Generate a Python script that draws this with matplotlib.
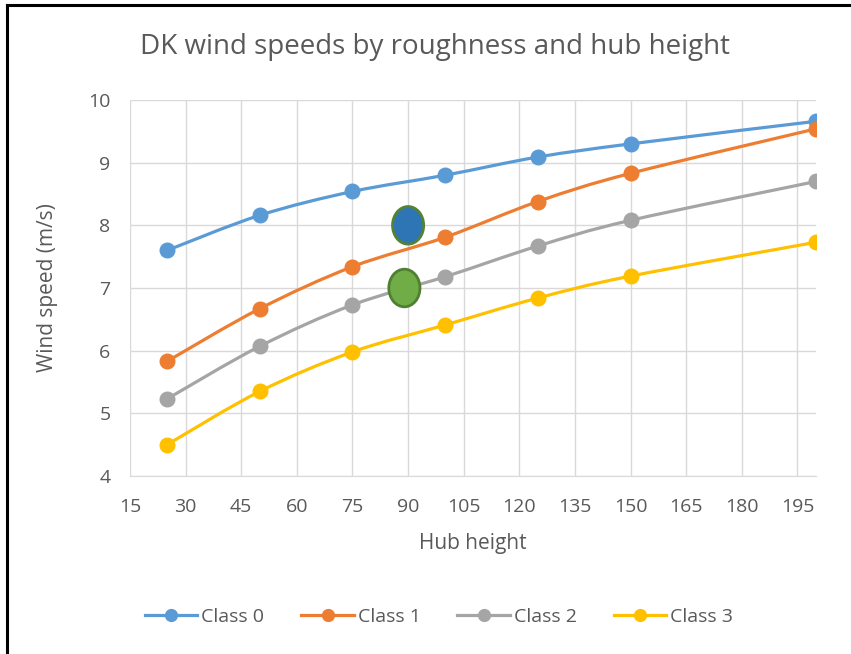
import numpy as np
import matplotlib
matplotlib.use('Agg')
import matplotlib.pyplot as plt
from matplotlib.path import Path
from matplotlib.patches import PathPatch, Ellipse
from matplotlib.lines import Line2D

plt.rcParams['font.family'] = ['Open Sans', 'DejaVu Sans']

hub_height = [25, 50, 75, 100, 125, 150, 200]
class_0 = [7.60, 8.16, 8.54, 8.80, 9.09, 9.30, 9.66]
class_1 = [5.83, 6.67, 7.34, 7.81, 8.38, 8.83, 9.54]
class_2 = [5.23, 6.07, 6.73, 7.18, 7.67, 8.08, 8.70]
class_3 = [4.50, 5.35, 5.98, 6.41, 6.84, 7.19, 7.73]
series_names = ['Class 0', 'Class 1', 'Class 2', 'Class 3']
colors = ['#5b9bd5', '#ed7d31', '#a5a5a5', '#ffc000']

# the two highlighted points
mark_x = [90, 89]
mark_y = [8.0, 7.0]
mark_fill = ['#2e75b6', '#70ad47']
mark_edge = ['#548235', '#507e32']

grey = '#595959'


def smooth_path(x, y):
    # Excel style smoothed line: cubic bezier through the points
    pts = np.column_stack([x, y]).astype(float)
    verts = [pts[0]]
    codes = [Path.MOVETO]
    n = len(pts)
    for i in range(n - 1):
        p0 = pts[i - 1] if i > 0 else pts[i]
        p1 = pts[i]
        p2 = pts[i + 1]
        p3 = pts[i + 2] if i + 2 < n else pts[i + 1]
        c1 = p1 + (p2 - p0) / 6.0
        c2 = p2 - (p3 - p1) / 6.0
        verts += [c1, c2, p2]
        codes += [Path.CURVE4] * 3
    return Path(verts, codes)


fig = plt.figure(figsize=(8.51, 6.54), dpi=100)
ax = fig.add_axes([130 / 851, 1 - 476 / 654, 686 / 851, 376 / 654])

handles = []
for name, vals, c in zip(series_names, [class_0, class_1, class_2, class_3], colors):
    ax.add_patch(PathPatch(smooth_path(hub_height, vals), facecolor='none',
                           edgecolor=c, lw=2.3, zorder=3, capstyle='round'))
    ax.plot(hub_height, vals, ls='none', marker='o', ms=10.5, color=c, zorder=4)
    handles.append(Line2D([], [], color=c, lw=2.3, marker='o', ms=8.5, label=name))

for mx, my, fc, ec in zip(mark_x, mark_y, mark_fill, mark_edge):
    ax.add_patch(Ellipse((mx, my), 8.4, 0.6, facecolor=fc, edgecolor=ec, lw=2, zorder=5))

ax.set_xlim(15, 200)
ax.set_ylim(4, 10)
ax.set_xticks(np.arange(15, 200, 15))
ax.set_yticks(np.arange(4, 11, 1))
ax.grid(True, color='#d9d9d9', lw=1)
ax.set_axisbelow(True)
for s in ['top', 'right', 'left']:
    ax.spines[s].set_visible(False)
ax.spines['bottom'].set_color('#d9d9d9')
ax.tick_params(length=0, labelsize=14, colors=grey)
ax.tick_params(axis='x', pad=16)
ax.tick_params(axis='y', pad=14)

ax.set_xlabel('Hub height', fontsize=15, color=grey, labelpad=12)
ax.set_ylabel('Wind speed (m/s)', fontsize=15, color=grey, labelpad=22)
fig.text(435 / 851, 1 - 47 / 654, 'DK wind speeds by roughness and hub height',
         ha='center', va='center', fontsize=20, color=grey)

fig.legend(handles=handles, loc='center', bbox_to_anchor=(439 / 851, 1 - 617 / 654),
           ncol=4, frameon=False, fontsize=14, labelcolor=grey, handlelength=2.7,
           handletextpad=0.2, columnspacing=1.9)

# frame lines of the screenshot (left and top only)
fig.add_artist(Line2D([7 / 851, 7 / 851], [0, 1 - 5 / 654], color='black', lw=2.2,
                      transform=fig.transFigure))
fig.add_artist(Line2D([7 / 851, 1], [1 - 5 / 654, 1 - 5 / 654], color='black', lw=2.2,
                      transform=fig.transFigure))

fig.savefig('out.png', dpi=100)
